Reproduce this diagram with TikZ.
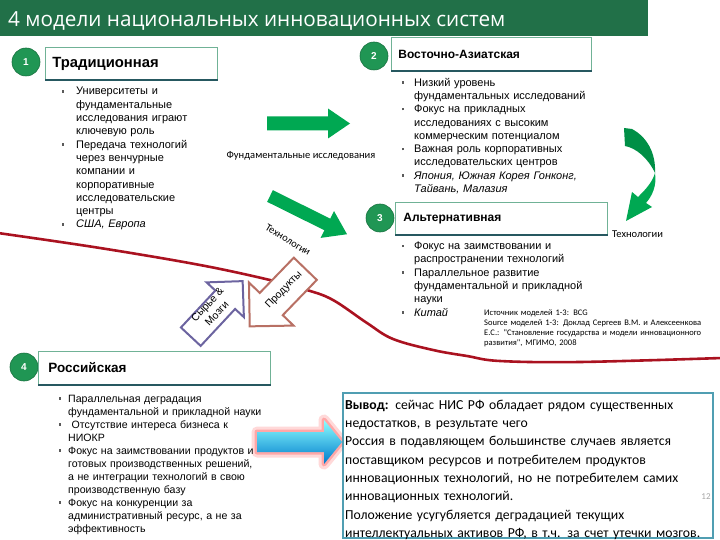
\documentclass[tikz,border=0pt]{standalone}
\usepackage{fontspec}
\setmainfont{Liberation Sans}
\newfontfamily\calibri{Carlito}
\newfontfamily\titlefont{Open Sans}
\usetikzlibrary{positioning}

\definecolor{titlegreen}{RGB}{33,112,72}
\definecolor{circgreen}{RGB}{32,150,84}
\definecolor{boxline}{RGB}{112,178,150}
\definecolor{boxshade}{RGB}{38,88,96}
\definecolor{arrowgreen}{RGB}{0,168,82}
\definecolor{curvered}{RGB}{170,18,32}
\definecolor{prodbrown}{RGB}{184,112,100}
\definecolor{rawviolet}{RGB}{108,100,160}
\definecolor{outlineblue}{RGB}{80,158,178}
\definecolor{bulletgray}{RGB}{90,90,90}

% square bullet hanging left of the line, optional gap to the text
\newcommand{\bul}[1][10pt]{\leavevmode\llap{\textcolor{bulletgray}{\rule[2.4pt]{2.6pt}{2.6pt}}\hspace{#1}}}
% block arrow along +x: length, shaft width, head width, head length
\newcommand{\blockarrow}[4]{(0,-#2/2) -- ({#1-#4},-#2/2) -- ({#1-#4},-#3/2) -- (#1,0) -- ({#1-#4},#3/2) -- ({#1-#4},#2/2) -- (0,#2/2) -- cycle}

\begin{document}
\begin{tikzpicture}[x=1pt,y=-1pt,
  hdrbox/.style={draw=boxline,fill=white,line width=0.8pt,rectangle,inner ysep=0pt,inner xsep=7pt,minimum height=33pt,anchor=west,align=left,font=\bfseries\fontsize{13.5}{16}\selectfont},
  numcirc/.style={circle,fill=circgreen,draw=circgreen!75!black,line width=0.6pt,minimum size=28pt,inner sep=0pt,text=white,font=\bfseries\fontsize{10}{12}\selectfont},
  bodytext/.style={anchor=base west,inner sep=0pt,align=left,font=\fontsize{11}{13.3}\selectfont},
  smalllabel/.style={inner sep=0pt,font=\calibri\fontsize{10.5}{12}\selectfont},
  arrowlabel/.style={inner sep=0pt,align=center,font=\fontsize{10.5}{13}\selectfont}]
  \useasboundingbox (0,0) rectangle (720,540);
  % title bar
  \fill[titlegreen] (0,0) rectangle (648,36);
  \node[anchor=base west,inner sep=0pt,text=white,font=\titlefont\fontsize{20.7}{25}\selectfont] (title) at (8,26.5) {4 модели национальных инновационных систем};
  % red line across the slide
  \draw[curvered,line width=2.6pt,line cap=round] plot[smooth,tension=0.6] coordinates {(-2,233) (100,248) (200,265) (270,280) (307,290) (333,300) (367,323) (393,339) (433,350) (467,356) (500,361) (580,362) (722,358)};
  % green arrows
  \fill[arrowgreen,shift={(267,123.5)}] \blockarrow{83}{14}{30}{22};
  \node[smalllabel] (fundlabel) at (301,156) {Фундаментальные исследования};
  \fill[arrowgreen,shift={(270,196)},rotate=-26.4] \blockarrow{86}{13}{30}{22};
  \node[smalllabel,rotate=-31] (techdiag) at (288,240) {Технологии};
  % curved arrow on the right
  \fill[arrowgreen!85!black] (624,128) -- (632,129) .. controls (647,137) and (656,153) .. (655,173) .. controls (648,158) and (636,148) .. (625,146) -- cycle;
  \fill[arrowgreen] (655,173) .. controls (657,186) and (652,196) .. (646,203) -- (652,207) -- (626,221) -- (632,192) -- (638,197) .. controls (645,190) and (652,183) .. (655,173) -- cycle;
  \node[smalllabel,anchor=base west] (techright) at (612,237) {Технологии};
  % outlined arrows
  \filldraw[fill=white,draw=prodbrown,line width=2pt,line join=miter,shift={(305.3,268.8)},rotate=226] \blockarrow{80}{32}{62}{31};
  \node[arrowlabel,rotate=46] (prodlabel) at (284,290) {Продукты};
  \filldraw[fill=white,draw=rawviolet,line width=2pt,line join=miter,shift={(190.8,336.7)},rotate=47] \blockarrow{76}{27}{51}{25.5};
  \node[arrowlabel,rotate=47] (rawlabel) at (212,309) {Сырье \&\\Мозги};
  % blue arrow with red glow
  \draw[red!60,opacity=0.25,line width=11pt,line join=round,shift={(257,442)}] \blockarrow{85}{20}{44}{18};
  \draw[red!70,opacity=0.35,line width=5pt,line join=round,shift={(257,442)}] \blockarrow{85}{20}{44}{18};
  \shade[top color=cyan!45!white,bottom color=cyan!60!blue!80!black,shift={(257,442)}] \blockarrow{85}{20}{44}{18};

  % 1 traditional
  \node[numcirc] (c1) at (26,62) {1};
  \node[hdrbox,text width=158pt,font=\bfseries\fontsize{14.8}{17}\selectfont] (hdr1) at (45,63.5) {Традиционная};
  \draw[boxshade,line width=2pt] (hdr1.south west) -- (hdr1.south east);
  \node[bodytext,text width=150pt] (trad) at (76,95) {\bul[12pt]Университеты и\\фундаментальные\\исследования играют\\ключевую роль\\\bul[12pt]Передача технологий\\через венчурные\\компании и\\корпоративные\\исследовательские\\центры\\\bul[12pt]\textit{США, Европа}};
  % 2 east asian
  \node[numcirc] (c2) at (374,56) {2};
  \node[hdrbox,text width=186pt,font=\bfseries\fontsize{12}{14}\selectfont] (hdr2) at (391,54) {Восточно-Азиатская};
  \draw[boxshade,line width=2pt] (hdr2.south west) -- (hdr2.south east);
  \node[bodytext,text width=200pt] (asia) at (414,86.2) {\bul Низкий уровень\\фундаментальных исследований\\\bul Фокус на прикладных\\исследованиях с высоким\\коммерческим потенциалом\\\bul Важная роль корпоративных\\исследовательских центров\\\bul\textit{Япония, Южная Корея Гонконг,}\\\textit{Тайвань, Малазия}};
  % 3 alternative
  \node[numcirc] (c3) at (380,218) {3};
  \node[hdrbox,text width=196pt,inner xsep=8pt,font=\bfseries\fontsize{12}{14}\selectfont] (hdr3) at (395,218.5) {Альтернативная};
  \draw[boxshade,line width=2pt] (hdr3.south west) -- (hdr3.south east);
  \node[bodytext,text width=190pt] (alt) at (414,249.6) {\bul Фокус на заимствовании и\\распространении технологий\\\bul Параллельное развитие\\фундаментальной и прикладной\\науки\\\bul\textit{Китай}};
  \node[anchor=base west,inner sep=0pt,align=left,text width=235pt,font=\calibri\fontsize{8.5}{10}\selectfont] (source) at (484,315.5) {Источник моделей 1-3: BCG\\Source моделей 1-3: Доклад Сергеев В.М. и Алексеенкова\\Е.С.: "Становление государства и модели инновационного\\развития", МГИМО, 2008};
  % 4 russian
  \node[numcirc] (c4) at (24,367) {4};
  \node[hdrbox,text width=212pt,inner xsep=10pt] (hdr4) at (38,368) {Российская};
  \draw[boxshade,line width=2pt] (hdr4.south west) -- (hdr4.south east);
  \node[bodytext,text width=220pt,font=\fontsize{10.6}{13}\selectfont] (russ) at (68,402) {\bul[7pt]Параллельная деградация\\фундаментальной и прикладной науки\\\bul[7pt]\ Отсутствие интереса бизнеса к\\НИОКР\\\bul[7pt]Фокус на заимствовании продуктов и\\готовых производственных решений,\\а не интеграции технологий в свою\\производственную базу\\\bul[7pt]Фокус на конкуренции за\\административный ресурс, а не за\\эффективность};
  % conclusion
  \draw[outlineblue,line width=1.6pt,fill=white] (343,393) rectangle (713,538);
  \node[anchor=base west,inner sep=0pt,align=left,text width=365pt,font=\calibri\fontsize{13.7}{18.3}\selectfont] (concl) at (345,409.3) {\textbf{Вывод:} сейчас НИС РФ обладает рядом существенных\\недостатков, в результате чего\\Россия в подавляющем большинстве случаев является\\поставщиком ресурсов и потребителем продуктов\\инновационных технологий, но не потребителем самих\\инновационных технологий.\\Положение усугубляется деградацией текущих\\интеллектуальных активов РФ, в т.ч. за счет утечки мозгов.};
  \node[text=gray!70,inner sep=0pt,font=\calibri\fontsize{9}{10}\selectfont] (pgnum) at (706,497) {12};
\end{tikzpicture}
\end{document}
